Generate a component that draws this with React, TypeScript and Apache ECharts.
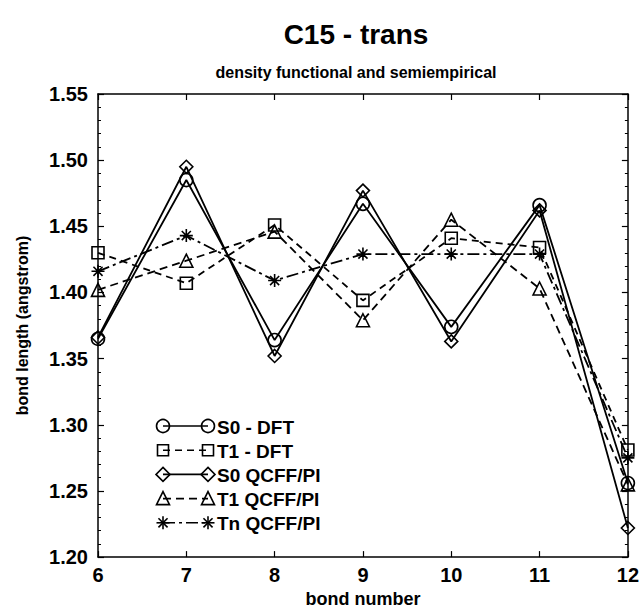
import React, { useEffect, useRef } from "react";
import * as echarts from "echarts";

const bonds = [6, 7, 8, 9, 10, 11, 12];
const s0DFT = [1.365, 1.485, 1.364, 1.467, 1.374, 1.466, 1.256];
const t1DFT = [1.43, 1.407, 1.451, 1.394, 1.441, 1.434, 1.281];
const s0QCFF = [1.366, 1.495, 1.352, 1.477, 1.363, 1.462, 1.222];
const t1QCFF = [1.402, 1.424, 1.446, 1.379, 1.455, 1.403, 1.255];
const tnQCFF = [1.416, 1.443, 1.409, 1.429, 1.429, 1.429, 1.275];

const seriesNames = ["S0 - DFT", "T1 - DFT", "S0 QCFF/PI", "T1 QCFF/PI", "Tn QCFF/PI"];
const seriesValues = [s0DFT, t1DFT, s0QCFF, t1QCFF, tnQCFF];
const seriesKinds = ["circle", "rect", "diamond", "triangle", "star"];
const seriesDash: any[] = ["solid", [7, 5], "solid", [8, 5], [12, 4, 3, 4]];

const titleText = "C15 - trans";
const subtitleText = "density functional and semiempirical";
const xName = "bond number";
const yName = "bond length (angstrom)";

const FONT = "'Liberation Sans', Arial, Helvetica, sans-serif";
const ASTERISK = "path://M0 -10 L0 10 M-10 0 L10 0 M-7 -7 L7 7 M-7 7 L7 -7";

function symbolFor(kind: string) {
  if (kind === "star") return ASTERISK;
  return kind;
}

function legendMarker(kind: string, cx: number, cy: number): any {
  const s = 6.5;
  const style = { fill: "rgba(0,0,0,0)", stroke: "#000", lineWidth: 1.6 };
  if (kind === "circle") return { type: "circle", shape: { cx, cy, r: s }, style };
  if (kind === "rect")
    return { type: "rect", shape: { x: cx - 5.5, y: cy - 5.5, width: 11, height: 11 }, style };
  if (kind === "diamond")
    return {
      type: "polygon",
      shape: { points: [[cx, cy - 7], [cx + 7, cy], [cx, cy + 7], [cx - 7, cy]] },
      style,
    };
  if (kind === "triangle")
    return {
      type: "polygon",
      shape: { points: [[cx, cy - 7], [cx + 6.5, cy + 6], [cx - 6.5, cy + 6]] },
      style,
    };
  const r = 6.5;
  const d = r * 0.7;
  const segs = [
    [0, -r, 0, r],
    [-r, 0, r, 0],
    [-d, -d, d, d],
    [-d, d, d, -d],
  ];
  return {
    type: "group",
    children: segs.map((g) => ({
      type: "line",
      shape: { x1: cx + g[0], y1: cy + g[1], x2: cx + g[2], y2: cy + g[3] },
      style: { stroke: "#000", lineWidth: 1.6 },
    })),
  };
}

export default function App() {
  const ref = useRef<HTMLDivElement>(null);
  useEffect(() => {
    if (!ref.current) return;
    const chart = echarts.init(ref.current, undefined, { renderer: "svg" });

    const axisLineStyle = { color: "#000", width: 1.5 };
    const series = seriesNames.map((name, i) => ({
      name,
      type: "line",
      data: bonds.map((b, j) => [b, seriesValues[i][j]]),
      symbol: symbolFor(seriesKinds[i]),
      symbolSize: seriesKinds[i] === "rect" ? 12 : 13,
      showAllSymbol: true,
      lineStyle: { color: "#000", width: 1.8, type: seriesDash[i] },
      itemStyle: { color: "rgba(0,0,0,0)", borderColor: "#000", borderWidth: 1.6 },
      emphasis: { disabled: true },
      z: 3,
    }));

    const legendGraphics: any[] = [];
    const legendTop = 426;
    const legendStep = 24.2;
    seriesNames.forEach((name, i) => {
      const cy = legendTop + i * legendStep;
      legendGraphics.push({
        type: "line",
        shape: { x1: 163, y1: cy, x2: 208, y2: cy },
        style: {
          stroke: "#000",
          lineWidth: 1.6,
          lineDash: seriesDash[i] === "solid" ? null : seriesDash[i],
        },
      });
      legendGraphics.push(legendMarker(seriesKinds[i], 163, cy));
      legendGraphics.push(legendMarker(seriesKinds[i], 208, cy));
      legendGraphics.push({
        type: "text",
        x: 217,
        y: cy + 1,
        style: {
          text: name,
          fontFamily: FONT,
          fontSize: 19,
          fontWeight: "bold",
          fill: "#000",
          align: "left",
          verticalAlign: "middle",
        },
      });
    });

    const option: any = {
      animation: false,
      backgroundColor: "#fff",
      grid: { left: 98, right: 14, top: 94, bottom: 53, containLabel: false },
      xAxis: [
        {
          type: "value",
          min: 6,
          max: 12,
          interval: 1,
          position: "bottom",
          axisLine: { show: true, lineStyle: axisLineStyle },
          axisTick: { show: true, inside: true, length: 6, lineStyle: { color: "#000", width: 1.2 } },
          axisLabel: {
            color: "#000",
            fontFamily: FONT,
            fontSize: 20,
            fontWeight: "bold",
            margin: 8,
          },
          splitLine: { show: false },
          name: xName,
          nameLocation: "middle",
          nameGap: 31,
          nameTextStyle: { color: "#000", fontFamily: FONT, fontSize: 18, fontWeight: "bold" },
        },
        {
          type: "value",
          min: 6,
          max: 12,
          interval: 1,
          position: "top",
          axisLine: { show: true, lineStyle: axisLineStyle },
          axisTick: { show: true, inside: true, length: 6, lineStyle: { color: "#000", width: 1.2 } },
          axisLabel: { show: false },
          splitLine: { show: false },
        },
      ],
      yAxis: [
        {
          type: "value",
          min: 1.2,
          max: 1.55,
          interval: 0.05,
          position: "left",
          axisLine: { show: true, lineStyle: axisLineStyle },
          axisTick: { show: true, inside: true, length: 6, lineStyle: { color: "#000", width: 1.2 } },
          minorTick: { show: true, splitNumber: 5, length: 3, lineStyle: { color: "#000", width: 1 } },
          axisLabel: {
            color: "#000",
            fontFamily: FONT,
            fontSize: 20,
            fontWeight: "bold",
            margin: 10,
            formatter: (v: number) => v.toFixed(2),
          },
          splitLine: { show: false },
          name: yName,
          nameLocation: "middle",
          nameRotate: 90,
          nameGap: 68,
          nameTextStyle: { color: "#000", fontFamily: FONT, fontSize: 16, fontWeight: "bold" },
        },
        {
          type: "value",
          min: 1.2,
          max: 1.55,
          interval: 0.05,
          position: "right",
          axisLine: { show: true, lineStyle: axisLineStyle },
          axisTick: { show: true, inside: true, length: 6, lineStyle: { color: "#000", width: 1.2 } },
          minorTick: { show: true, splitNumber: 5, length: 3, lineStyle: { color: "#000", width: 1 } },
          axisLabel: { show: false },
          splitLine: { show: false },
        },
      ],
      series,
      graphic: [
        {
          type: "text",
          x: 356,
          y: 34,
          style: {
            text: titleText,
            fontFamily: FONT,
            fontSize: 28,
            fontWeight: "bold",
            fill: "#000",
            align: "center",
            verticalAlign: "middle",
          },
        },
        {
          type: "text",
          x: 356,
          y: 72,
          style: {
            text: subtitleText,
            fontFamily: FONT,
            fontSize: 16,
            fontWeight: "bold",
            fill: "#000",
            align: "center",
            verticalAlign: "middle",
          },
        },
        ...legendGraphics,
      ],
    };
    chart.setOption(option);
    return () => chart.dispose();
  }, []);
  return (
    <div
      ref={ref}
      style={{ position: "fixed", left: 0, top: 0, width: 642, height: 613, background: "#fff" }}
    />
  );
}
